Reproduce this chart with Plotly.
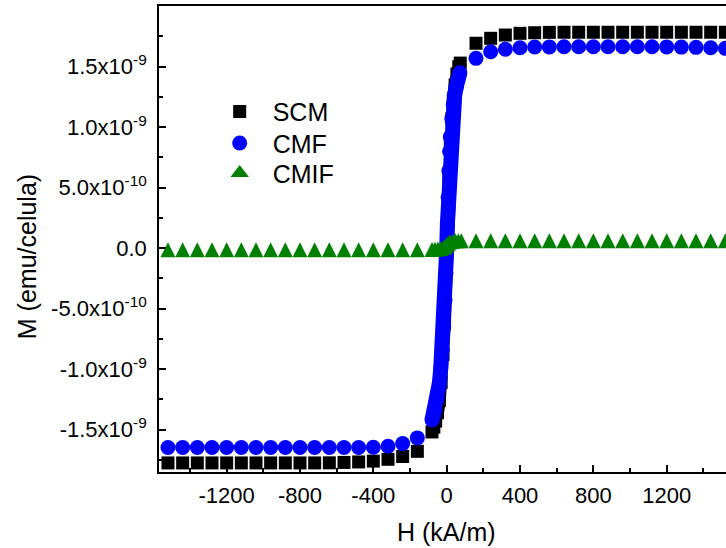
import plotly.graph_objects as go

# Applied field H (kA/m) on the sparse outer branches
h_neg = [-1520, -1440, -1360, -1280, -1200, -1120, -1040, -960, -880, -800,
         -720, -640, -560, -480, -400, -320, -240, -160]
h_pos = [160, 240, 320, 400, 480, 560, 640, 720, 800, 880,
         960, 1040, 1120, 1200, 1280, 1360, 1440, 1520]

# Magnetisation M, in units of 1e-9 emu/celula
scm_m_neg = [-1.776, -1.776, -1.776, -1.776, -1.776, -1.776, -1.776, -1.776, -1.776, -1.776,
             -1.776, -1.775, -1.772, -1.768, -1.761, -1.746, -1.723, -1.680]
scm_m_pos = [1.694, 1.735, 1.762, 1.776, 1.781, 1.784, 1.785, 1.785, 1.785, 1.785,
             1.785, 1.785, 1.785, 1.785, 1.785, 1.785, 1.785, 1.785]
scm_h_core = [-80, -70, -60, -50, -40, -30, -20, -12, -6, 0, 6, 12, 20, 28, 36, 46, 56, 66, 74]
scm_m_core = [-1.52, -1.48, -1.43, -1.36, -1.26, -1.11, -0.88, -0.62, -0.33, 0.0,
              0.30, 0.58, 0.86, 1.07, 1.22, 1.35, 1.44, 1.50, 1.53]

cmf_m_neg = [-1.649, -1.649, -1.649, -1.649, -1.649, -1.649, -1.649, -1.649, -1.649, -1.649,
             -1.649, -1.649, -1.649, -1.649, -1.646, -1.638, -1.616, -1.569]
cmf_m_pos = [1.569, 1.624, 1.644, 1.657, 1.663, 1.664, 1.665, 1.665, 1.665, 1.665,
             1.665, 1.665, 1.665, 1.664, 1.662, 1.660, 1.657, 1.652]
cmf_h_core = [-80, -72, -64, -52, -40, -32, -24, -16, -9, -4, 0, 4, 8, 12, 16, 20,
              28, 36, 44, 52, 62, 72]
cmf_m_core = [-1.42, -1.38, -1.34, -1.24, -1.12, -0.99, -0.84, -0.65, -0.43, -0.21, -0.02,
              0.20, 0.42, 0.64, 0.80, 0.92, 1.07, 1.19, 1.27, 1.33, 1.40, 1.45]

cmif_m_neg = [-0.014] * 18
cmif_m_pos = [0.062] * 18
cmif_h_core = [-80, -64, -48, -32, -16, -8, 0, 8, 16, 32, 48, 64, 80]
cmif_m_core = [-0.012, -0.010, -0.008, -0.004, 0.005, 0.015, 0.028, 0.040, 0.050,
               0.057, 0.060, 0.062, 0.062]

UNIT = 1e-9

x_tickvals = [-1200, -800, -400, 0, 400, 800, 1200]
x_ticktext = ["-1200", "-800", "-400", "0", "400", "800", "1200"]
x_minorvals = [-1400, -1000, -600, -200, 200, 600, 1000, 1400]

y_tickvals = [-1.5e-9, -1.0e-9, -5.0e-10, 0.0, 5.0e-10, 1.0e-9, 1.5e-9]
y_ticktext = ["-1.5x10<sup>-9</sup>", "-1.0x10<sup>-9</sup>", "-5.0x10<sup>-10</sup>", "0.0",
              "5.0x10<sup>-10</sup>", "1.0x10<sup>-9</sup>", "1.5x10<sup>-9</sup>"]
y_minorvals = [-1.75e-9, -1.25e-9, -0.75e-9, -0.25e-9, 0.25e-9, 0.75e-9, 1.25e-9, 1.75e-9]

# The upward triangle is built from an arrow symbol turned around and shifted so that
# its box is centred on the point; the legend swatch uses a plain triangle instead.
series = [
    dict(name="SCM", color="#000000", neg=scm_m_neg, pos=scm_m_pos,
         hc=scm_h_core, mc=scm_m_core, legend="legend",
         marker=dict(symbol="square", size=13), key=None, band=13),
    dict(name="CMF", color="#0000FF", neg=cmf_m_neg, pos=cmf_m_pos,
         hc=cmf_h_core, mc=cmf_m_core, legend="legend2",
         marker=dict(symbol="circle", size=15), key=None, band=15),
    dict(name="CMIF", color="#008000", neg=cmif_m_neg, pos=cmif_m_pos,
         hc=cmif_h_core, mc=cmif_m_core, legend="legend3",
         marker=dict(symbol="arrow-down", angle=180, standoff=7.5, size=15),
         key=dict(symbol="triangle-up", size=16), band=0),
]

fig = go.Figure()
for s in series:
    hx = h_neg + s["hc"] + h_pos
    my = [v * UNIT for v in s["neg"] + s["mc"] + s["pos"]]
    if s["band"]:
        # densely sampled steep section rendered as a solid band
        fig.add_trace(go.Scatter(
            x=s["hc"], y=[v * UNIT for v in s["mc"]], mode="lines",
            line=dict(color=s["color"], width=s["band"]),
            showlegend=False, hoverinfo="skip"))
    fig.add_trace(go.Scatter(
        x=hx, y=my, mode="markers", name=s["name"], legend=s["legend"],
        showlegend=s["key"] is None, legendgroup=s["name"],
        marker=dict(color=s["color"], line=dict(width=0), **s["marker"])))
    if s["key"] is not None:
        fig.add_trace(go.Scatter(
            x=[None], y=[None], mode="markers", name=s["name"], legend=s["legend"],
            legendgroup=s["name"],
            marker=dict(color=s["color"], line=dict(width=0), **s["key"])))

axis_common = dict(
    showline=True, linecolor="black", linewidth=1.7,
    ticks="inside", ticklen=7, tickwidth=1.5, tickcolor="black",
    showgrid=False, zeroline=False,
    tickfont=dict(size=22, color="black"),
)

fig.update_xaxes(
    range=[-1569, 1523.5], tickmode="array", tickvals=x_tickvals, ticktext=x_ticktext,
    minor=dict(ticks="inside", ticklen=4, tickwidth=1.5, tickcolor="black", tickvals=x_minorvals),
    mirror=True, ticklabelstandoff=3, **axis_common)
fig.update_yaxes(
    range=[-1.851e-9, 2.002e-9], tickmode="array", tickvals=y_tickvals, ticktext=y_ticktext,
    minor=dict(ticks="inside", ticklen=4, tickwidth=1.5, tickcolor="black", tickvals=y_minorvals),
    ticklabelstandoff=6, **axis_common)

legend_style = dict(x=0.0841, xanchor="left", yanchor="middle", itemwidth=56,
                    font=dict(size=25), bgcolor="rgba(0,0,0,0)")

fig.update_layout(
    width=726, height=548,
    margin=dict(l=159, r=0, t=6, b=76),
    paper_bgcolor="white", plot_bgcolor="white",
    font=dict(family="Arial, 'Liberation Sans', sans-serif", color="black", size=22),
    legend=dict(y=0.7732, **legend_style),
    legend2=dict(y=0.7054, **legend_style),
    legend3=dict(y=0.6410, **legend_style),
    annotations=[
        dict(text="H (kA/m)", xref="paper", yref="paper", x=0.5074, y=-0.129,
             xanchor="center", yanchor="middle", showarrow=False, font=dict(size=25)),
        dict(text="M (emu/celula)", xref="paper", yref="paper", x=-0.2328, y=0.461,
             xanchor="center", yanchor="middle", textangle=-90, showarrow=False,
             font=dict(size=25)),
    ],
)

fig.write_html("out.html")
